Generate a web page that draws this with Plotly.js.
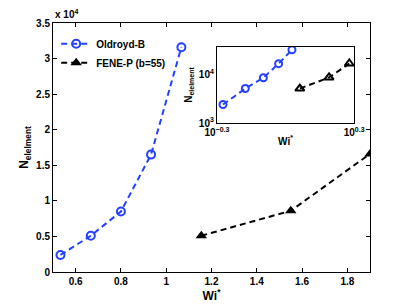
<!DOCTYPE html>
<html>
<head>
<meta charset="utf-8">
<script src="https://cdn.plot.ly/plotly-3.0.1.min.js"></script>
<style>html,body{margin:0;padding:0;background:#fff;}#chart{width:409px;height:307px;}</style>
</head>
<body>
<div id="chart"></div>
<script>
// Data
const wiOldroyd = [0.533, 0.667, 0.800, 0.933, 1.067];
const nOldroyd = [2400, 5100, 8500, 16500, 31600];
const wiFene = [1.155, 1.55, 1.90];
const nFene = [5100, 8600, 16600];
const seriesNames = ["Oldroyd-B", "FENE-P (b=55)"];
const yTickVals = [0, 5000, 10000, 15000, 20000, 25000, 30000, 35000];
const yTickText = ["0", "0.5", "1", "1.5", "2", "2.5", "3", "3.5"];
const xTickVals = [0.6, 0.8, 1.0, 1.2, 1.4, 1.6, 1.8];
const xTickText = ["0.6", "0.8", "1", "1.2", "1.4", "1.6", "1.8"];
const insetXTickVals = [Math.pow(10, -0.3), Math.pow(10, 0.3)];
const insetXTickText = ["10<sup>\u22120.3</sup>", "10<sup>0.3</sup>"];
const insetYTickVals = [1000, 10000];
const insetYTickText = ["10<sup>3</sup>", "10<sup>4</sup>"];

const BLUE = "rgb(35,65,255)";
const FONT = "Liberation Sans, Arial, sans-serif";
const tickFont = {family: FONT, size: 10, color: "#000", weight: "bold"};

const traces = [
  {x: wiOldroyd, y: nOldroyd, name: seriesNames[0], type: "scatter", mode: "lines+markers",
   line: {color: BLUE, width: 2, dash: "6px,4px"},
   marker: {symbol: "circle-open", size: 8, color: BLUE, line: {width: 2, color: BLUE}},
   xaxis: "x", yaxis: "y"},
  {x: wiFene, y: nFene, name: seriesNames[1], type: "scatter", mode: "lines+markers",
   line: {color: "#000", width: 2, dash: "6px,4px"},
   marker: {symbol: "triangle-up", size: 10, color: "#000"},
   xaxis: "x", yaxis: "y"},
  {x: wiOldroyd, y: nOldroyd, showlegend: false, type: "scatter", mode: "lines+markers",
   line: {color: BLUE, width: 2, dash: "6px,4px"},
   marker: {symbol: "circle-open", size: 7, color: BLUE, line: {width: 2, color: BLUE}},
   xaxis: "x2", yaxis: "y2"},
  {x: wiFene, y: nFene, showlegend: false, type: "scatter", mode: "lines+markers",
   line: {color: "#000", width: 2, dash: "6px,4px"},
   marker: {symbol: "triangle-up-open", size: 8, color: "#000", line: {width: 2, color: "#000"}},
   xaxis: "x2", yaxis: "y2"}
];

const axisCommon = {showgrid: false, zeroline: false, showline: true, linecolor: "#000", linewidth: 1,
  mirror: "ticks", ticks: "inside", ticklen: 4, tickcolor: "#000", tickfont: tickFont};

const layout = {
  width: 409, height: 307,
  margin: {l: 53, r: 39, t: 23, b: 35},
  paper_bgcolor: "#fff", plot_bgcolor: "#fff",
  font: {family: FONT, color: "#000"},
  showlegend: true,
  legend: {x: 0.01, y: 0.975, xanchor: "left", yanchor: "top", bgcolor: "rgba(0,0,0,0)",
    font: {family: FONT, size: 10, color: "#000", weight: "bold"}, itemwidth: 30, tracegroupgap: 0},
  xaxis: Object.assign({}, axisCommon, {range: [0.5, 1.9], tickvals: xTickVals, ticktext: xTickText,
    title: {text: "Wi<sup>*</sup>", font: {family: FONT, size: 12, weight: "bold"}, standoff: 4}}),
  yaxis: Object.assign({}, axisCommon, {range: [0, 35000], tickvals: yTickVals, ticktext: yTickText,
    title: {text: "N<sub>elelment</sub>", font: {family: FONT, size: 12, weight: "bold"}, standoff: 4}}),
  xaxis2: Object.assign({}, axisCommon, {type: "log", range: [-0.3, 0.3], domain: [0.517, 0.95], anchor: "y2",
    tickvals: insetXTickVals, ticktext: insetXTickText, ticklen: 0,
    title: {text: "Wi<sup>*</sup>", font: {family: FONT, size: 10, weight: "bold"}, standoff: 0}}),
  yaxis2: Object.assign({}, axisCommon, {type: "log", range: [3, 4.56], domain: [0.598, 0.904], anchor: "x2",
    tickvals: insetYTickVals, ticktext: insetYTickText, ticklen: 0,
    title: {text: "N<sub>elelment</sub>", font: {family: FONT, size: 10, weight: "bold"}, standoff: 4}}),
  annotations: [
    {text: "x 10<sup>4</sup>", xref: "paper", yref: "paper", x: 0.0, y: 1.0, xanchor: "left", yanchor: "bottom",
     showarrow: false, font: {family: FONT, size: 10, color: "#000", weight: "bold"}, yshift: 1}
  ]
};

Plotly.newPlot("chart", traces, layout, {displayModeBar: false, staticPlot: true});
</script>
</body>
</html>
